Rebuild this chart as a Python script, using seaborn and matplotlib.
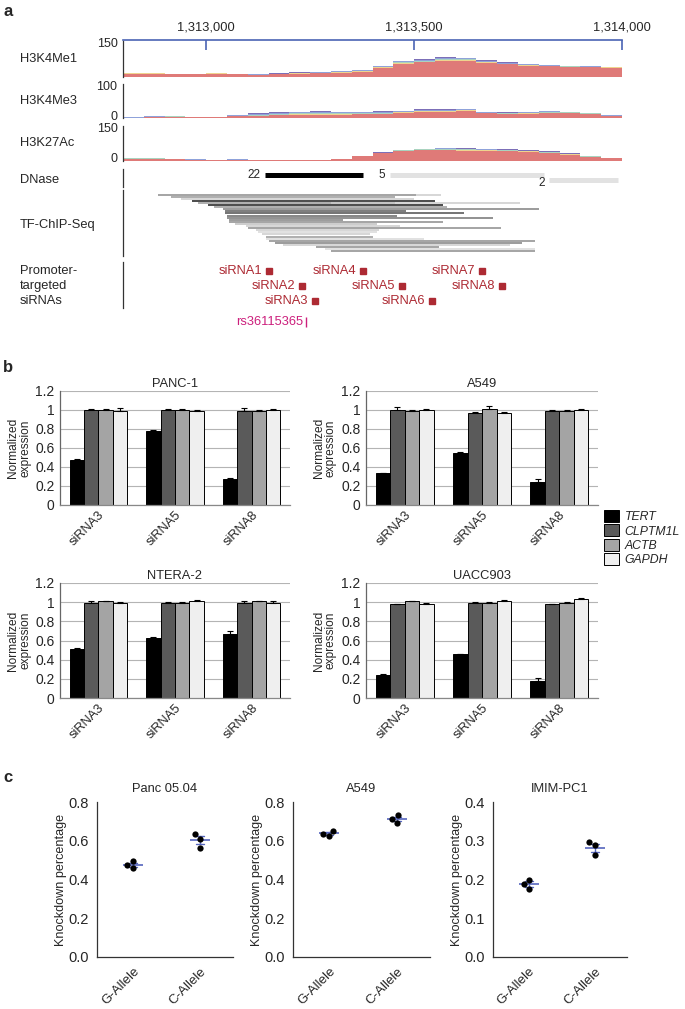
import numpy as np
import pandas as pd
import matplotlib
matplotlib.use("Agg")
import matplotlib.pyplot as plt
from matplotlib.patches import Patch
from matplotlib.transforms import ScaledTranslation
import seaborn as sns

W, H = 685, 1009

# ---------------- panel a data ----------------
bin_starts = list(range(1312800, 1314000, 50))
coord_ticks = [1313000, 1313500, 1314000]

h3k4me1_red = [14, 14, 11, 11, 14, 11, 8, 11, 14, 15, 18, 22, 39, 56, 61, 67, 67, 60, 53, 47, 44, 42, 42, 39]
h3k4me1_yellow = [1, 1, 1, 1, 1, 1, 1, 1, 1, 1, 1, 2, 1, 2, 2, 2, 2, 1, 1, 2, 1, 1, 0, 1]
h3k4me1_teal = [1, 1, 1, 1, 1, 1, 1, 1, 1, 2, 2, 2, 2, 3, 4, 4, 4, 2, 2, 2, 2, 1, 1, 1]
h3k4me1_blue = [1, 1, 1, 1, 1, 1, 1, 1, 2, 2, 3, 3, 3, 4, 5, 5, 5, 3, 3, 3, 2, 1, 1, 1]
h3k4me1_purple = [0, 1, 0, 0, 0, 0, 0, 1, 1, 2, 2, 2, 2, 2, 4, 4, 3, 3, 2, 2, 1, 1, 0, 0]

h3k4me3_red = [1, 3, 4, 2, 2, 5, 6, 8, 9, 10, 10, 11, 12, 16, 19, 19, 22, 14, 12, 13, 15, 14, 11, 6]
h3k4me3_yellow = [0, 0, 0, 0, 0, 1, 1, 2, 2, 2, 2, 1, 1, 1, 1, 1, 1, 1, 1, 1, 1, 1, 1, 0]
h3k4me3_teal = [0, 1, 1, 1, 0, 1, 3, 3, 3, 3, 3, 3, 3, 2, 2, 2, 1, 1, 1, 2, 2, 2, 2, 1]
h3k4me3_blue = [1, 1, 1, 1, 1, 2, 3, 3, 3, 3, 2, 2, 2, 2, 2, 2, 2, 2, 2, 2, 2, 1, 1, 1]
h3k4me3_purple = [0, 0, 0, 0, 0, 1, 2, 2, 2, 2, 2, 2, 2, 1, 2, 2, 1, 1, 1, 1, 1, 1, 1, 1]

h3k27ac_red = [9, 9, 7, 4, 3, 4, 3, 4, 3, 4, 7, 20, 33, 44, 46, 46, 45, 44, 42, 40, 34, 27, 17, 12]
h3k27ac_yellow = [1, 1, 1, 1, 1, 1, 0, 0, 0, 0, 0, 1, 1, 1, 2, 3, 3, 3, 2, 2, 2, 1, 1, 1]
h3k27ac_teal = [1, 1, 0, 1, 0, 1, 0, 0, 0, 0, 0, 1, 1, 1, 2, 3, 2, 2, 2, 2, 2, 2, 2, 1]
h3k27ac_blue = [1, 1, 1, 1, 1, 1, 1, 1, 1, 1, 1, 1, 1, 2, 2, 3, 3, 3, 3, 1, 2, 2, 2, 1]
h3k27ac_purple = [0, 1, 0, 0, 0, 0, 0, 0, 0, 0, 0, 0, 1, 1, 1, 1, 1, 1, 1, 1, 1, 1, 1, 0]

dnase_start = [1313141, 1313441, 1313824]
dnase_end = [1313376, 1313812, 1313991]
dnase_score = [22, 5, 2]
dnase_row = [0, 0, 1]
dnase_color = ["black", "#e2e2e2", "#e2e2e2"]

tf_row = [0, 0, 1, 2, 3, 4, 4, 5, 6, 7, 8, 9, 10, 11, 12, 13, 14, 15, 16, 17,
          18, 19, 20, 21, 22, 23, 24, 25, 26, 27]
tf_start = [1312885, 1313505, 1312915, 1312940, 1312965, 1312980, 1313300, 1313005, 1313020, 1313040,
            1313045, 1313045, 1313050, 1313050, 1313055, 1313055, 1313070, 1313095, 1313100, 1313120,
            1313125, 1313135, 1313145, 1313145, 1313150, 1313165, 1313185, 1313265, 1313285, 1313300]
tf_end = [1313505, 1313565, 1313455, 1313500, 1313550, 1313455, 1313755, 1313570, 1313580, 1313800,
          1313480, 1313620, 1313460, 1313690, 1313330, 1313570, 1313410, 1313465, 1313710, 1313415,
          1313410, 1313395, 1313400, 1313525, 1313790, 1313760, 1313730, 1313560, 1313790, 1313790]
tf_shade = [0.55, 0.8, 0.6, 0.8, 0.1, 0.6, 0.8, 0.1, 0.6, 0.5,
            0.35, 0.3, 0.4, 0.45, 0.5, 0.55, 0.75, 0.8, 0.55, 0.8,
            0.85, 0.8, 0.6, 0.85, 0.55, 0.5, 0.8, 0.55, 0.85, 0.55]

sirna_names = ["siRNA1", "siRNA2", "siRNA3", "siRNA4", "siRNA5", "siRNA6", "siRNA7", "siRNA8"]
sirna_pos = [1313152, 1313230, 1313261, 1313377, 1313472, 1313544, 1313663, 1313711]
sirna_row = [0, 1, 2, 0, 1, 2, 0, 1]
snp_name = "rs36115365"
snp_pos = 1313241

# ---------------- panel b data ----------------
sirnas = ["siRNA3", "siRNA5", "siRNA8"]
genes = ["TERT", "CLPTM1L", "ACTB", "GAPDH"]
gene_colors = ["#000000", "#5a5a5a", "#a4a4a4", "#efefef"]

panc1_vals = [[0.47, 1.0, 1.0, 0.99], [0.78, 1.0, 1.0, 0.99], [0.27, 0.99, 0.99, 1.0]]
panc1_err = [[0.01, 0.01, 0.01, 0.03], [0.01, 0.01, 0.01, 0.01], [0.01, 0.03, 0.01, 0.01]]
a549_vals = [[0.34, 1.0, 0.99, 1.0], [0.55, 0.97, 1.01, 0.97], [0.24, 0.99, 0.99, 1.0]]
a549_err = [[0.0, 0.03, 0.01, 0.01], [0.01, 0.01, 0.03, 0.01], [0.03, 0.01, 0.01, 0.01]]
ntera2_vals = [[0.51, 0.99, 1.01, 0.99], [0.63, 0.99, 0.99, 1.01], [0.67, 0.99, 1.01, 0.99]]
ntera2_err = [[0.01, 0.02, 0.0, 0.01], [0.01, 0.01, 0.01, 0.01], [0.03, 0.02, 0.0, 0.02]]
uacc903_vals = [[0.24, 0.98, 1.01, 0.98], [0.46, 0.99, 0.99, 1.01], [0.18, 0.98, 0.99, 1.03]]
uacc903_err = [[0.01, 0.0, 0.0, 0.01], [0.0, 0.01, 0.01, 0.01], [0.03, 0.0, 0.01, 0.01]]

# ---------------- panel c data ----------------
alleles = ["G-Allele", "C-Allele"]
panc0504_g = [0.496, 0.461, 0.473]
panc0504_c = [0.633, 0.611, 0.565]
a549_g = [0.651, 0.625, 0.637]
a549_c = [0.731, 0.714, 0.692]
imim_g = [0.200, 0.188, 0.176]
imim_c = [0.297, 0.288, 0.262]

sns.set_style("white")
plt.rcParams["font.family"] = ["Liberation Sans", "DejaVu Sans"]

fig = plt.figure(figsize=(W / 100, H / 100), dpi=100)

XMIN, XMAX = 1312800, 1314000
BLUE = "#4a64b4"
FS = 9.3


def px_axes(x0, y0, x1, y1):
    return fig.add_axes([x0 / W, 1 - y1 / H, (x1 - x0) / W, (y1 - y0) / H])


def only_left(ax, color="#333333"):
    for s in ["top", "right", "bottom"]:
        ax.spines[s].set_visible(False)
    ax.spines["left"].set_color(color)
    ax.spines["left"].set_linewidth(0.9)
    ax.set_xticks([])


def nudge(label, dy_px):
    label.set_transform(label.get_transform() + ScaledTranslation(0, dy_px / 100, fig.dpi_scale_trans))


# ---- panel a ----
fig.text(3 / W, 1 - 12 / H, "a", fontsize=12, fontweight="bold", va="center")

ax = px_axes(123, 40, 622, 48)
ax.set_xlim(XMIN, XMAX)
for s in ["left", "right", "bottom"]:
    ax.spines[s].set_visible(False)
ax.spines["top"].set_color(BLUE)
ax.spines["top"].set_linewidth(1.2)
ax.xaxis.tick_top()
ax.set_xticks(coord_ticks)
ax.set_xticklabels([f"{t:,}" for t in coord_ticks])
ax.tick_params(axis="x", direction="in", length=7, width=1.2, color=BLUE, labelsize=FS, pad=5)
ax.set_yticks([])
ax.patch.set_alpha(0)

x_edges = bin_starts + [XMAX]
track_colors = ["#df7a78", "#efd48e", "#a9d3bf", "#8fa2da", "#7c6fb8"]
tracks = [
    ("H3K4Me1", 150, (41, 77), [h3k4me1_red, h3k4me1_yellow, h3k4me1_teal, h3k4me1_blue, h3k4me1_purple], ["", "150"]),
    ("H3K4Me3", 100, (84, 118), [h3k4me3_red, h3k4me3_yellow, h3k4me3_teal, h3k4me3_blue, h3k4me3_purple], ["0", "100"]),
    ("H3K27Ac", 150, (126, 161), [h3k27ac_red, h3k27ac_yellow, h3k27ac_teal, h3k27ac_blue, h3k27ac_purple], ["0", "150"]),
]
for name, top, (y0, y1), layers, labels in tracks:
    ax = px_axes(123, y0, 622, y1)
    ys = [np.append(l, l[-1]) for l in layers]
    ax.stackplot(x_edges, *ys, colors=track_colors, step="post", linewidth=0)
    ax.set_xlim(XMIN, XMAX)
    ax.set_ylim(0, top)
    only_left(ax)
    ax.set_yticks([0, top])
    ax.set_yticklabels(labels)
    ax.tick_params(axis="y", length=3, width=0.9, labelsize=9, pad=1)
    lo, hi = ax.get_yticklabels()
    nudge(lo, 3)
    nudge(hi, -1.5)
    ax.patch.set_alpha(0)
    fig.text(20 / W, 1 - (y0 + y1) / 2 / H, name, fontsize=FS, va="center")

# DNase
ax = px_axes(123, 169, 622, 187)
ax.set_xlim(XMIN, XMAX)
ax.set_ylim(2.2, -1.0)
ax.hlines(dnase_row, dnase_start, dnase_end, colors=dnase_color, linewidth=3.6)
for s, r, sc in zip(dnase_start, dnase_row, dnase_score):
    ax.annotate(str(sc), (s, r), xytext=(-3, -2 * r), textcoords="offset points",
                ha="right", va="center", fontsize=8.5)
only_left(ax)
ax.set_yticks([])
fig.text(20 / W, 1 - 180 / H, "DNase", fontsize=FS, va="center")

# TF ChIP-seq
ax = px_axes(123, 190, 622, 256)
ax.set_xlim(XMIN, XMAX)
ax.set_ylim(29.3, -2.2)
ax.hlines(tf_row, tf_start, tf_end, colors=[str(s) for s in tf_shade], linewidth=1.1)
only_left(ax)
ax.set_yticks([])
fig.text(20 / W, 1 - 225 / H, "TF-ChIP-Seq", fontsize=FS, va="center")

# siRNAs
ax = px_axes(123, 262, 622, 330)
ax.set_xlim(XMIN, XMAX)
ax.set_ylim(330, 262)
RED = "#ad2a33"
sy = [271 + 15 * r for r in sirna_row]
ax.plot(sirna_pos, sy, "s", color=RED, markersize=3.8, linestyle="none")
for n, p, y in zip(sirna_names, sirna_pos, sy):
    ax.annotate(n, (p, y), xytext=(-5, 0), textcoords="offset points",
                ha="right", va="center", fontsize=FS, color=RED)
MAG = "#cc1f7c"
ax.vlines([snp_pos], 317, 327, color=MAG, linewidth=1.0)
ax.annotate(snp_name, (snp_pos, 322), xytext=(-2, 0), textcoords="offset points",
            ha="right", va="center", fontsize=FS, color=MAG)
only_left(ax)
ax.spines["left"].set_bounds(308, 262)
ax.set_yticks([])
ax.patch.set_alpha(0)
fig.text(20 / W, 1 - 286 / H, "Promoter-\ntargeted\nsiRNAs", fontsize=FS, va="center", linespacing=1.3)

# ---- panel b ----
fig.text(3 / W, 1 - 368 / H, "b", fontsize=12, fontweight="bold", va="center")


def bar_panel(rect, title, vals, errs):
    ax = px_axes(*rect)
    rows = [(s, g, vals[i][j]) for i, s in enumerate(sirnas) for j, g in enumerate(genes)]
    df = pd.DataFrame(rows, columns=["siRNA", "gene", "value"])
    sns.barplot(data=df, x="siRNA", y="value", hue="gene", hue_order=genes, order=sirnas,
                palette=gene_colors, errorbar=None, width=0.75, edgecolor="black",
                linewidth=0.7, legend=False, ax=ax, zorder=2)
    bar_conts = list(ax.containers)
    for j, cont in enumerate(bar_conts):
        for i, bar in enumerate(cont):
            e = errs[i][j]
            xc = bar.get_x() + bar.get_width() / 2
            ax.errorbar(xc, bar.get_height(), yerr=[[0], [e]], fmt="none", ecolor="black",
                        elinewidth=0.8, capsize=2, capthick=0.8, zorder=3)
    ax.set_ylim(0, 1.2)
    ax.set_xlim(-0.5, 2.5)
    yt = [0, 0.2, 0.4, 0.6, 0.8, 1.0, 1.2]
    ax.set_yticks(yt)
    ax.set_yticklabels(["0", "0.2", "0.4", "0.6", "0.8", "1", "1.2"])
    ax.yaxis.grid(True, color="#b4b4b4", linewidth=0.8)
    ax.set_axisbelow(True)
    for s in ["top", "right"]:
        ax.spines[s].set_visible(False)
    ax.spines["left"].set_color("#666666")
    ax.spines["bottom"].set_color("#888888")
    ax.spines["left"].set_linewidth(0.9)
    ax.spines["bottom"].set_linewidth(0.9)
    ax.tick_params(axis="y", length=0, labelsize=10, pad=4)
    ax.tick_params(axis="x", length=0, labelsize=9.3, pad=3)
    plt.setp(ax.get_xticklabels(), rotation=45, ha="right", rotation_mode="anchor")
    ax.set_xlabel("")
    ax.set_ylabel("Normalized\nexpression", fontsize=8.6, linespacing=1.0,
                  family=["Liberation Sans Narrow", "Liberation Sans"])
    ax.yaxis.set_label_coords(-0.125, 0.5)
    ax.set_title(title, fontsize=FS, pad=3)
    return ax


bar_panel((60, 391, 290, 505), "PANC-1", panc1_vals, panc1_err)
bar_panel((366, 391, 598, 505), "A549", a549_vals, a549_err)
bar_panel((60, 583, 290, 698), "NTERA-2", ntera2_vals, ntera2_err)
bar_panel((366, 583, 598, 698), "UACC903", uacc903_vals, uacc903_err)

handles = [Patch(facecolor=c, edgecolor="black", linewidth=0.7, label=g) for g, c in zip(genes, gene_colors)]
fig.legend(handles=handles, loc="upper left", bbox_to_anchor=(604 / W, 1 - 510 / H), frameon=False,
           prop={"style": "italic", "size": 8.8}, handlelength=1.25, handleheight=1.1,
           handletextpad=0.45, labelspacing=0.12, borderpad=0, borderaxespad=0)

# ---- panel c ----
fig.text(3 / W, 1 - 777 / H, "c", fontsize=12, fontweight="bold", va="center")
MEAN_BLUE = "#5565bd"


def allele_panel(rect, title, g_vals, c_vals, ymax, yticks):
    ax = px_axes(*rect)
    df = pd.DataFrame({"allele": [alleles[0]] * len(g_vals) + [alleles[1]] * len(c_vals),
                       "kd": g_vals + c_vals})
    sns.pointplot(data=df, x="allele", y="kd", order=alleles, errorbar="se", capsize=0.12,
                  marker="_", markersize=14, markeredgewidth=1.2, linestyle="none",
                  color=MEAN_BLUE, err_kws={"linewidth": 1.0}, ax=ax)
    sns.swarmplot(data=df, x="allele", y="kd", order=alleles, color="black", size=4.5, ax=ax, zorder=3)
    ax.set_xlim(-0.54, 1.49)
    ax.set_ylim(0, ymax)
    ax.set_yticks(yticks)
    ax.set_yticklabels([f"{t:.1f}" for t in yticks])
    sns.despine(ax=ax)
    for s in ["left", "bottom"]:
        ax.spines[s].set_color("#333333")
        ax.spines[s].set_linewidth(0.9)
    ax.tick_params(axis="both", length=4, width=0.9, color="#333333", pad=2)
    ax.tick_params(axis="y", labelsize=10.5)
    ax.tick_params(axis="x", labelsize=9.5)
    plt.setp(ax.get_xticklabels(), rotation=45, ha="right", rotation_mode="anchor")
    ax.set_xlabel("")
    ax.set_ylabel("Knockdown percentage", fontsize=9.1, labelpad=1)
    ax.set_title(title, fontsize=FS, pad=7)
    return ax


allele_panel((97, 802, 233, 957), "Panc 05.04", panc0504_g, panc0504_c, 0.8, [0, 0.2, 0.4, 0.6, 0.8])
allele_panel((293, 802, 430, 957), "A549", a549_g, a549_c, 0.8, [0, 0.2, 0.4, 0.6, 0.8])
allele_panel((493, 802, 627, 957), "IMIM-PC1", imim_g, imim_c, 0.4, [0, 0.1, 0.2, 0.3, 0.4])

fig.savefig("out.png", dpi=100)
